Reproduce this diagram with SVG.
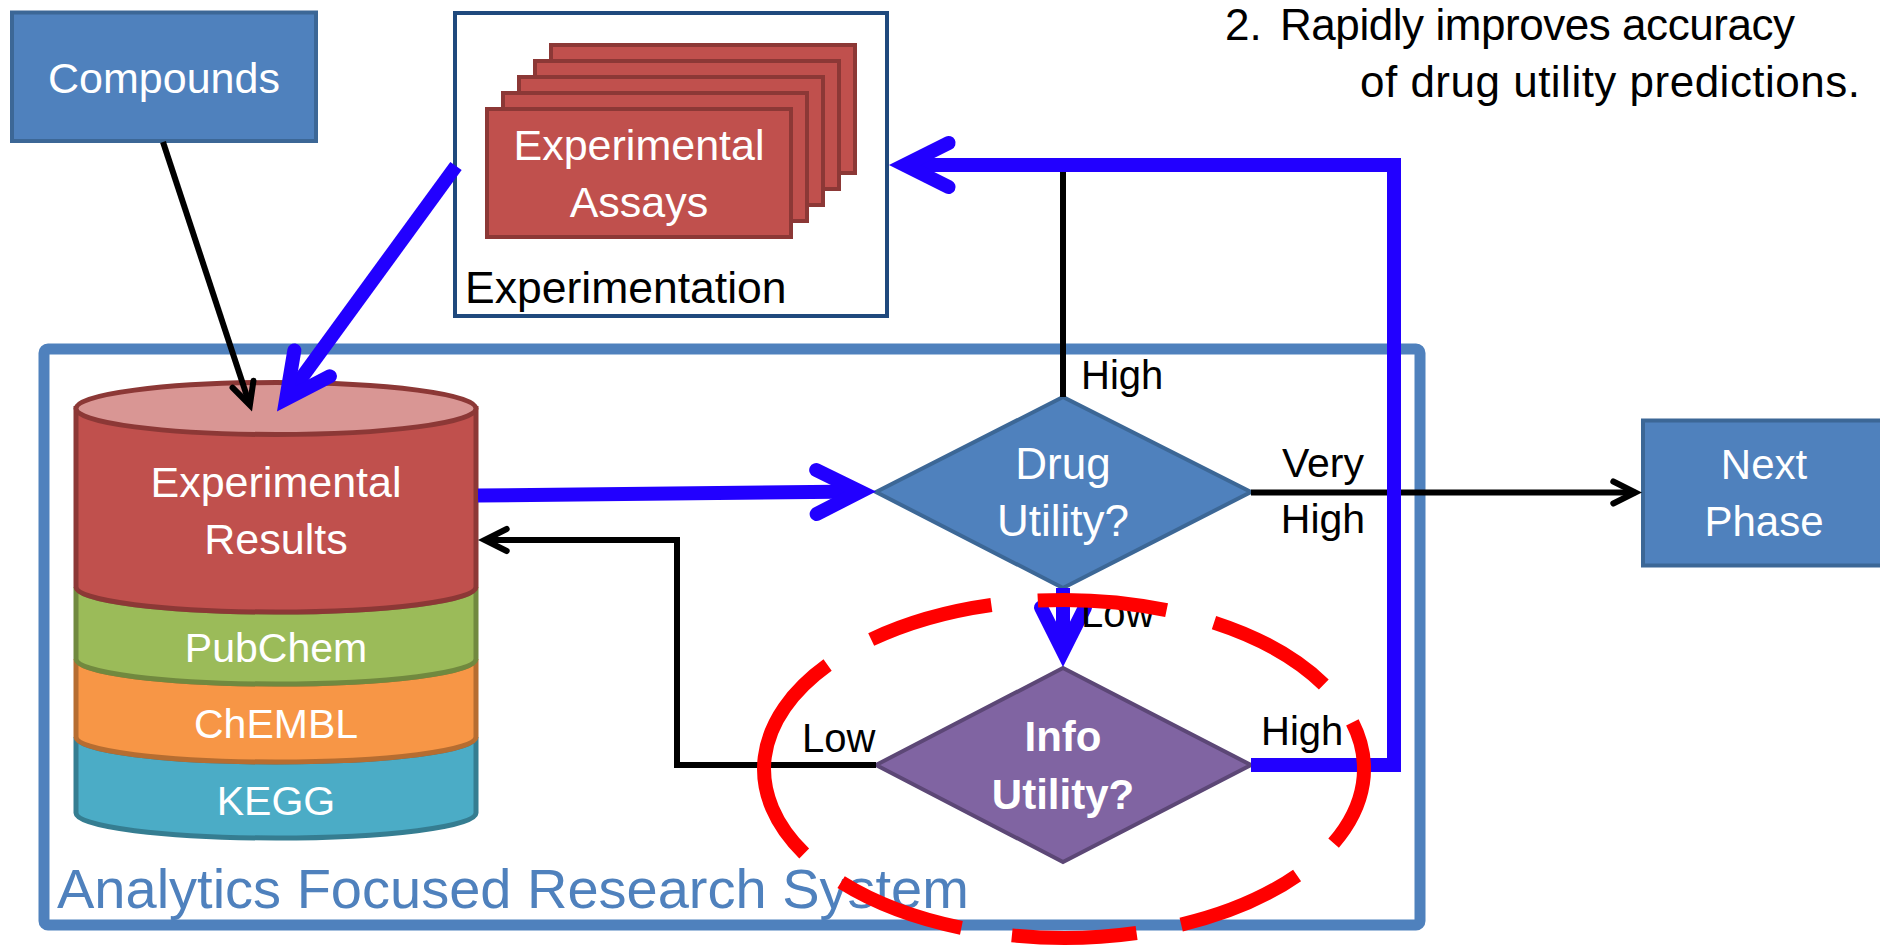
<svg xmlns="http://www.w3.org/2000/svg" width="1880" height="946" viewBox="0 0 1880 946">
<style>
  text { font-family: "Liberation Sans", Arial, sans-serif; }
  .wt { fill: #ffffff; text-anchor: middle; }
  .bt { fill: #000000; }
  .blueBox { fill: #4f81bd; stroke: #3c6796; stroke-width: 4; }
  .assay { fill: #c0504d; stroke: #8c3836; stroke-width: 4; }
  .blk { fill: none; stroke: #000000; stroke-width: 6; stroke-linejoin: miter; }
  .blu { fill: none; stroke: #2200ff; stroke-width: 14; stroke-linejoin: miter; }
  .dash { fill: none; stroke: #ff0000; stroke-width: 14; stroke-linecap: butt; }
</style>
<defs>
  <marker id="ahBlue" markerUnits="userSpaceOnUse" orient="auto" refX="0" refY="0" markerWidth="1" markerHeight="1" overflow="visible">
    <path d="M -44 -22 L 0 0 L -44 22" fill="none" stroke="#2200ff" stroke-width="14" stroke-linecap="round" stroke-linejoin="miter"/>
  </marker>
  <marker id="ahBlack" markerUnits="userSpaceOnUse" orient="auto" refX="0" refY="0" markerWidth="1" markerHeight="1" overflow="visible">
    <path d="M -22 -11 L 0 0 L -22 11" fill="none" stroke="#000000" stroke-width="6" stroke-linecap="round" stroke-linejoin="miter"/>
  </marker>
</defs>
<rect width="1880" height="946" fill="#ffffff"/>

<g id="analytics-system">
  <rect x="44" y="349" width="1376" height="576" rx="4" fill="none" stroke="#4f81bd" stroke-width="11"/>
  <text x="57" y="908" font-size="56" fill="#4f81bd">Analytics Focused Research System</text>
</g>

<g id="compounds">
  <rect class="blueBox" x="12" y="12.5" width="304" height="128.5"/>
  <text class="wt" x="164" y="93" font-size="43">Compounds</text>
</g>

<g id="experimentation">
  <rect x="455" y="13" width="432" height="303" fill="#ffffff" stroke="#1f497d" stroke-width="4"/>
  <text class="bt" x="465" y="303" font-size="44.5">Experimentation</text>
</g>

<g id="experimental-assays">
  <rect class="assay" x="551" y="45" width="304" height="128"/>
  <rect class="assay" x="535" y="61" width="304" height="128"/>
  <rect class="assay" x="519" y="77" width="304" height="128"/>
  <rect class="assay" x="503" y="93" width="304" height="128"/>
  <rect class="assay" x="487" y="109" width="304" height="128"/>
  <text class="wt" x="639" y="160" font-size="43">Experimental</text>
  <text class="wt" x="639" y="217" font-size="43">Assays</text>
</g>

<g id="database">
  <path d="M 76 737 L 76 813 A 200 25 0 0 0 476 813 L 476 737 A 200 25 0 0 1 76 737 Z" fill="#4bacc6" stroke="#357d91" stroke-width="5"/>
  <path d="M 76 659 L 76 737 A 200 25 0 0 0 476 737 L 476 659 A 200 25 0 0 1 76 659 Z" fill="#f79646" stroke="#b66d31" stroke-width="5"/>
  <path d="M 76 587 L 76 659 A 200 25 0 0 0 476 659 L 476 587 A 200 25 0 0 1 76 587 Z" fill="#9bbb59" stroke="#71893f" stroke-width="5"/>
  <path d="M 76 408.5 L 76 587 A 200 25 0 0 0 476 587 L 476 408.5 Z" fill="#c0504d" stroke="#8c3836" stroke-width="5"/>
  <ellipse cx="276" cy="408.5" rx="200" ry="26" fill="#d99694" stroke="#8c3836" stroke-width="5"/>
  <text class="wt" x="276" y="497" font-size="43">Experimental</text>
  <text class="wt" x="276" y="554" font-size="43">Results</text>
  <text class="wt" x="276" y="662" font-size="41">PubChem</text>
  <text class="wt" x="276" y="738" font-size="41">ChEMBL</text>
  <text class="wt" x="276" y="815" font-size="41">KEGG</text>
</g>

<g id="drug-utility">
  <polygon points="876,492 1063,397 1251,492 1063,588" fill="#4f81bd" stroke="#3c6796" stroke-width="4"/>
  <text class="wt" x="1063" y="479" font-size="44">Drug</text>
  <text class="wt" x="1063" y="536" font-size="44">Utility?</text>
</g>

<g id="info-utility">
  <polygon points="876,765 1063,668 1251,765 1063,862" fill="#8064a2" stroke="#5c4776" stroke-width="4"/>
  <text class="wt" x="1063" y="751" font-size="42" font-weight="bold">Info</text>
  <text class="wt" x="1063" y="809" font-size="42" font-weight="bold">Utility?</text>
</g>

<g id="next-phase">
  <rect class="blueBox" x="1643" y="420.5" width="245" height="145"/>
  <text class="wt" x="1764" y="479" font-size="42">Next</text>
  <text class="wt" x="1764" y="536" font-size="42">Phase</text>
</g>

<g id="connectors">
  <path class="blk" d="M 163 142 L 249.9 405.1" marker-end="url(#ahBlack)"/>
  <path class="blk" d="M 1063 397 L 1063 170"/>
  <path class="blk" d="M 1251 492.5 L 1635.3 492.5" marker-end="url(#ahBlack)"/>
  <path class="blk" d="M 876 765 L 677 765 L 677 540 L 484.7 540" marker-end="url(#ahBlack)"/>
  <path class="blu" d="M 456 166 L 286.2 398.9" marker-end="url(#ahBlue)"/>
  <path class="blu" d="M 478 495.5 L 860.4 491.6" marker-end="url(#ahBlue)"/>
  <path class="blu" d="M 1063 588 L 1063 651.4" marker-end="url(#ahBlue)"/>
  <path class="blu" d="M 1251 765 L 1394 765 L 1394 165 L 904.6 165" marker-end="url(#ahBlue)"/>
</g>

<g id="edge-labels">
  <text class="bt" x="1081" y="389" font-size="40">High</text>
  <text class="bt" x="1323" y="477" font-size="41" text-anchor="middle">Very</text>
  <text class="bt" x="1323" y="533" font-size="41" text-anchor="middle">High</text>
  <text class="bt" x="1081" y="627" font-size="40">Low</text>
  <text class="bt" x="802" y="752" font-size="40">Low</text>
  <text class="bt" x="1261" y="745" font-size="40">High</text>
</g>

<g id="highlight">
  <path class="dash" d="M 1037.8 600.6 A 300 169 0 0 1 1166.6 610.2"/>
  <path class="dash" d="M 1214 622.6 A 300 169 0 0 1 1323.8 684.5"/>
  <path class="dash" d="M 1352.4 722.4 A 300 169 0 0 1 1333.6 843.1"/>
  <path class="dash" d="M 1297.1 875.4 A 300 169 0 0 1 1181.2 924.6"/>
  <path class="dash" d="M 1136.6 933 A 300 169 0 0 1 1011.9 935.4"/>
  <path class="dash" d="M 961.4 927.8 A 300 169 0 0 1 841.1 882.1"/>
  <path class="dash" d="M 804.2 853.5 A 300 169 0 0 1 827.6 665"/>
  <path class="dash" d="M 871.2 639.5 A 300 169 0 0 1 991.4 605"/>
</g>

<g id="note">
  <text class="bt" x="1225" y="40" font-size="44">2.</text>
  <text class="bt" x="1280" y="40" font-size="44" textLength="515">Rapidly improves accuracy</text>
  <text class="bt" x="1360" y="97" font-size="44" textLength="500">of drug utility predictions.</text>
</g>
</svg>
